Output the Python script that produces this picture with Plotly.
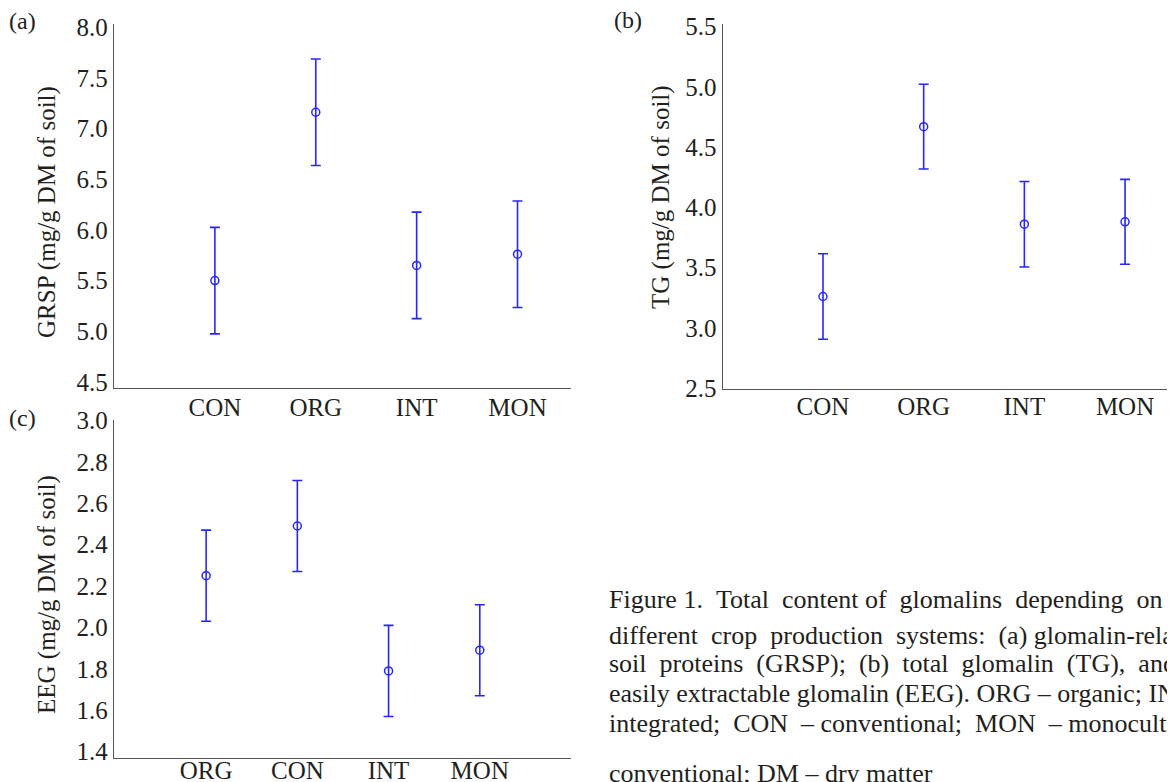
import plotly.graph_objects as go

# The page body adds an 8 px margin; size the figure to fill the rest of the
# 1175x782 window and express positions in window pixels.
OFF = 8
WIN_W, WIN_H = 1175, 782
W, H = WIN_W - OFF, WIN_H - OFF

# ---------------- data ----------------
cats_a = ["CON", "ORG", "INT", "MON"]
grsp_mean = [5.50, 7.16, 5.65, 5.76]
grsp_err = [0.525, 0.525, 0.525, 0.525]

cats_b = ["CON", "ORG", "INT", "MON"]
tg_mean = [3.26, 4.67, 3.86, 3.88]
tg_err = [0.355, 0.352, 0.355, 0.352]

cats_c = ["ORG", "CON", "INT", "MON"]
eeg_mean = [2.25, 2.49, 1.79, 1.89]
eeg_err = [0.22, 0.22, 0.22, 0.22]

caption_lines = [
    "Figure 1. Total content of glomalins depending on",
    "different crop production systems: (a) glomalin-related",
    "soil proteins (GRSP); (b) total glomalin (TG), and (c)",
    "easily extractable glomalin (EEG). ORG – organic; INT –",
    "integrated; CON – conventional; MON – monoculture",
    "conventional; DM – dry matter",
]
# extra non-breaking spaces per word gap (to imitate the justified text)
caption_gap_extra = [
    [0, 1, 1, 0, 1, 1, 1],
    [1, 1, 1, 1, 0],
    [1, 1, 1, 1, 1, 1, 1, 1],
    [],
    [1, 1, 0, 1, 1, 0],
    [],
]

BLUE = "#2626ff"
TXT = "#231f20"
AX = "#555555"
FONT = "Liberation Serif"


def px(x):
    return (x - OFF) / W


def py(y):
    return 1 - (y - OFF) / H


fig = go.Figure()


def add_panel(cats, mean, err, xa, ya):
    fig.add_trace(go.Scatter(
        x=cats, y=mean, mode="markers",
        marker=dict(symbol="circle-open", size=8, color=BLUE, line=dict(width=1.5, color=BLUE)),
        error_y=dict(type="data", array=err, visible=True, color=BLUE, thickness=1.6, width=5),
        xaxis=xa, yaxis=ya, showlegend=False, hoverinfo="skip",
    ))


add_panel(cats_a, grsp_mean, grsp_err, "x", "y")
add_panel(cats_b, tg_mean, tg_err, "x2", "y2")
add_panel(cats_c, eeg_mean, eeg_err, "x3", "y3")

tickfont = dict(family=FONT, size=25, color=TXT)


def xax(domain, rng, anchor, standoff):
    return dict(domain=domain, range=rng, anchor=anchor, type="category",
                showline=True, linecolor=AX, linewidth=1.3, ticks="",
                showgrid=False, zeroline=False, tickfont=tickfont, fixedrange=True,
                automargin=False, ticklabelstandoff=standoff)


def yax(domain, rng, dtick, anchor):
    return dict(domain=domain, range=rng, anchor=anchor, dtick=dtick, tick0=0,
                tickformat=".1f", showline=True, linecolor=AX, linewidth=1.3,
                ticks="", showgrid=False, zeroline=False, tickfont=tickfont,
                fixedrange=True, automargin=False)


fig.update_layout(
    width=W, height=H,
    margin=dict(l=0, r=0, t=0, b=0, autoexpand=False),
    paper_bgcolor="white", plot_bgcolor="white",
    font=dict(family=FONT, color=TXT),
    xaxis=xax([px(114), px(571)], [-1.0, 3.53], "y", -3),
    yaxis=yax([py(388), py(24)], [4.441, 8.030], 0.5, "x"),
    xaxis2=xax([px(722.7), 1.0], [-0.996, 3.577 - 8 / 98.7], "y2", -5),
    yaxis2=yax([py(389), py(24)], [2.492, 5.522], 0.5, "x2"),
    xaxis3=xax([px(114), px(571)], [-1.01, 4.0], "y3", -10),
    yaxis3=yax([py(758.3), py(420)], [1.368, 3.002], 0.2, "x3"),
)

ann = []
# panel letters
for t, x, y in [("(a)", 22, 21), ("(b)", 628, 20), ("(c)", 22, 418)]:
    ann.append(dict(text=t, x=px(x), y=py(y), xref="paper", yref="paper",
                    showarrow=False, xanchor="center", yanchor="middle",
                    font=dict(family=FONT, size=24, color=TXT)))
# axis titles
for t, x, y in [("GRSP (mg/g DM of soil)", 47, 212),
                ("TG (mg/g DM of soil)", 661, 197),
                ("EEG (mg/g DM of soil)", 47, 595)]:
    ann.append(dict(text=t, x=px(x), y=py(y), xref="paper", yref="paper",
                    showarrow=False, xanchor="center", yanchor="middle", textangle=-90,
                    font=dict(family=FONT, size=25, color=TXT)))
# caption
cap_y = [599, 635, 663, 693, 723, 773]
for t, extra, y in zip(caption_lines, caption_gap_extra, cap_y):
    words = t.split(" ")
    txt = words[0]
    for i, w in enumerate(words[1:]):
        n = extra[i] if i < len(extra) else 0
        txt += " " + "\u00a0" * n + w
    ann.append(dict(text=txt, x=px(607), y=py(y), xref="paper", yref="paper",
                    showarrow=False, xanchor="left", yanchor="middle",
                    font=dict(family=FONT, size=26, color=TXT)))
fig.update_layout(annotations=ann)

fig.write_html("out.html")
